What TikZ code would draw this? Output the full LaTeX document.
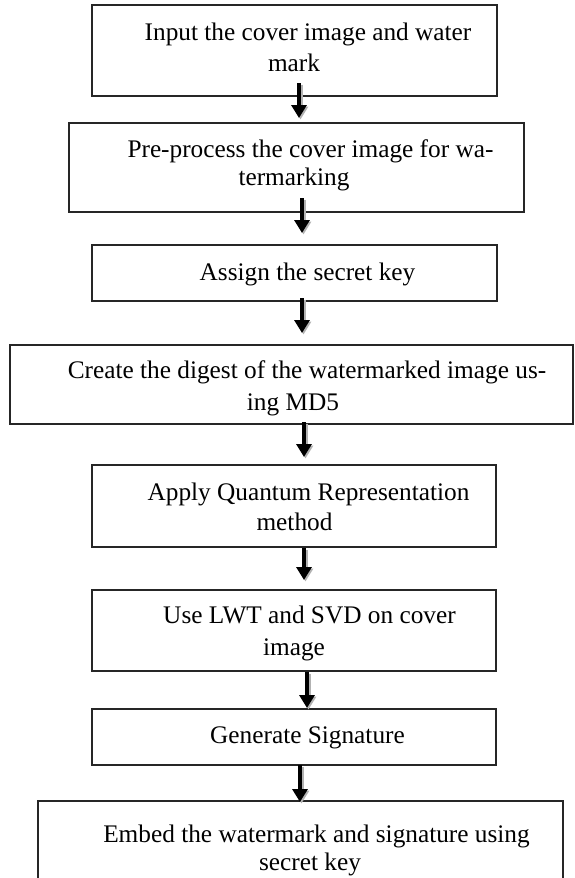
\documentclass[tikz,border=0pt]{standalone}
\usepackage{fontspec}
\setmainfont{Liberation Serif}
\usetikzlibrary{arrows.meta}

% #1 source box, #2 target box, #3 x position, #4 overlap into source, #5 gap before target
\newcommand\flowarrow[5]{%
  \draw[flowshade, shorten <=-#4, shorten >=#5] (#1.south -| #3) -- (#2.north -| #3);
  \draw[flow, shorten <=-#4, shorten >=#5] (#1.south -| #3) -- (#2.north -| #3);
}

\begin{document}
\begin{tikzpicture}[x=1pt, y=-1pt,
  font=\fontsize{25.3}{28}\selectfont,
  stepbox/.style={draw=black!85, line width=1.4pt, rectangle, inner sep=0pt,
                  outer sep=0pt, anchor=north west},
  steptext/.style={align=center, inner sep=0pt, anchor=base},
  flow/.style={line width=4.8pt, -{Triangle[width=15pt,length=13pt]}},
  flowshade/.style={flow, draw=black!30,
                    transform canvas={shift={(1.5pt,-1.5pt)}}}]

\useasboundingbox (0,0) rectangle (574,878);

% boxes
\node[stepbox, minimum width=405pt, minimum height=91pt] (b1) at (92,5)   {};
\node[stepbox, minimum width=455pt, minimum height=89pt] (b2) at (69,123) {};
\node[stepbox, minimum width=405pt, minimum height=56pt] (b3) at (92,245) {};
\node[stepbox, minimum width=563pt, minimum height=79pt] (b4) at (10,345) {};
\node[stepbox, minimum width=404pt, minimum height=82pt] (b5) at (92,465) {};
\node[stepbox, minimum width=404pt, minimum height=81pt] (b6) at (92,590) {};
\node[stepbox, minimum width=404pt, minimum height=56pt] (b7) at (92,709) {};
\node[stepbox, minimum width=525pt, minimum height=99pt] (b8) at (38,801) {};

% box texts (anchored at the baseline of the last line)
\node[steptext] (t1) at (294,71)
  {\hspace*{28pt}Input the cover image and water\\[3pt]mark};
\node[steptext] (t2) at (294,185)
  {\hspace*{33pt}Pre-process the cover image for wa-\\termarking};
\node[steptext] (t3) at (307.5,280) {Assign the secret key};
\node[steptext] (t4) at (293,410)
  {\hspace*{28pt}Create the digest of the watermarked image us-\\[4pt]ing MD5};
\node[steptext] (t5) at (294.5,530)
  {\hspace*{28pt}Apply Quantum Representation\\[2pt]method};
\node[steptext] (t6) at (294,655)
  {\hspace*{31pt}Use LWT and SVD on cover\\[4pt]image};
\node[steptext] (t7) at (307.5,743) {Generate Signature};
\node[steptext] (t8) at (310,870)
  {\hspace*{13pt}Embed the watermark and signature using\\secret key};

% arrow positions
\coordinate (ax1) at (299,0);
\coordinate (ax2) at (302,0);
\coordinate (ax3) at (302,0);
\coordinate (ax4) at (304,0);
\coordinate (ax5) at (304,0);
\coordinate (ax6) at (307,0);
\coordinate (ax7) at (300,0);

\flowarrow{b1}{b2}{ax1}{13pt}{5pt}
\flowarrow{b2}{b3}{ax2}{14pt}{12pt}
\flowarrow{b3}{b4}{ax3}{3pt}{12pt}
\flowarrow{b4}{b5}{ax4}{2pt}{8pt}
\flowarrow{b5}{b6}{ax5}{-1pt}{10pt}
\flowarrow{b6}{b7}{ax6}{-1pt}{1pt}
\flowarrow{b7}{b8}{ax7}{0pt}{-1pt}

\end{tikzpicture}
\end{document}
